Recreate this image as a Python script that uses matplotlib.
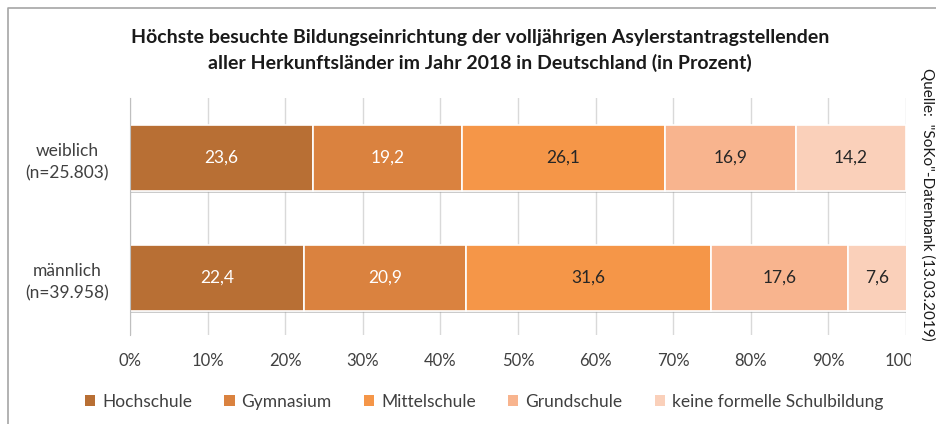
import numpy as np
import matplotlib.pyplot as plt
from matplotlib.lines import Line2D
from matplotlib.patches import Patch
from matplotlib.transforms import Bbox, TransformedBbox
import matplotlib.patheffects as pe

plt.rcParams['font.family'] = ['Lato', 'DejaVu Sans']

groups = ["männlich\n(n=39.958)", "weiblich\n(n=25.803)"]
categories = ["Hochschule", "Gymnasium", "Mittelschule", "Grundschule",
              "keine formelle Schulbildung"]
# values per category: [männlich, weiblich]
hochschule = [22.4, 23.6]
gymnasium = [20.9, 19.2]
mittelschule = [31.6, 26.1]
grundschule = [17.6, 16.9]
keine = [7.6, 14.2]
series = [hochschule, gymnasium, mittelschule, grundschule, keine]

colors = ["#B86F34", "#DA823F", "#F59648", "#F8B48E", "#FAD0BA"]
label_colors = ["white", "white", "#262626", "#262626", "#262626"]

fig = plt.figure(figsize=(9.36, 4.24), dpi=100)
ax = fig.add_axes([130 / 936, 1 - 335 / 424, 776 / 936, 237 / 424])

y = np.arange(len(groups))
left = np.zeros(len(groups))
for vals, col, lcol in zip(series, colors, label_colors):
    vals = np.array(vals)
    bars = ax.barh(y, vals, left=left, height=0.55, color=col,
                   edgecolor="white", linewidth=1.2, zorder=3)
    for b in bars:
        b.set_path_effects([pe.SimplePatchShadow(offset=(1, -1.5), shadow_rgbFace="#999999", alpha=0.5),
                            pe.Normal()])
    for yi, v, l in zip(y, vals, left):
        ax.text(l + v / 2, yi, f"{v:.1f}".replace(".", ","), ha="center",
                va="center", color=lcol, fontsize=12.5, zorder=4)
    left = left + vals

ax.set_xlim(0, 100)
ax.set_ylim(-0.475, 1.5)
ax.set_xticks(np.arange(0, 101, 10))
ax.set_xticklabels([f"{t}%" for t in range(0, 101, 10)], fontsize=12, color="#404040")
ax.set_yticks(y)
ax.set_yticklabels(groups, fontsize=12.5, color="#404040", multialignment="center",
                   linespacing=1.45)
ax.tick_params(axis="both", length=0)
ax.tick_params(axis="x", pad=13)
ax.tick_params(axis="y", pad=15)
ax.xaxis.grid(True, color="#D9D9D9", linewidth=1, zorder=0)
ax.set_axisbelow(True)
for s in ["top", "right", "bottom"]:
    ax.spines[s].set_visible(False)
ax.spines["left"].set_color("#BFBFBF")
ax.spines["left"].set_zorder(5)

# the last tick label is cut off at the right in the original
clip = TransformedBbox(Bbox([[0, 0], [911 / 936, 1]]), fig.transFigure)
last = ax.get_xticklabels()[-1]
last.set_clip_on(True)
last.set_clip_box(clip)

fig.text(480 / 936, 1 - 38 / 424, "Höchste besuchte Bildungseinrichtung der volljährigen Asylerstantragstellenden",
         ha="center", va="center", fontsize=14, fontweight="bold", color="#1a1a1a")
fig.text(480 / 936, 1 - 63 / 424, "aller Herkunftsländer im Jahr 2018 in Deutschland (in Prozent)",
         ha="center", va="center", fontsize=14, fontweight="bold", color="#1a1a1a")

fig.text(928 / 936, 1 - 68 / 424, 'Quelle:  "SoKo"-Datenbank (13.03.2019)', rotation=270,
         ha="center", va="top", fontsize=11, color="#1a1a1a")

handles = [Patch(facecolor=c, edgecolor="none") for c in colors]
fig.legend(handles, categories, loc="center", bbox_to_anchor=(484 / 936, 1 - 402 / 424),
           ncol=5, frameon=False, fontsize=12.5, handlelength=0.6, handleheight=0.6,
           handletextpad=0.4, columnspacing=1.85, labelcolor="#404040")

# chart border
fig.add_artist(Line2D([8 / 936, 8 / 936, 1.0], [0, 1 - 8 / 424, 1 - 8 / 424],
                      transform=fig.transFigure, color="#A6A6A6", linewidth=1.2))

fig.savefig("out.png", dpi=100)
